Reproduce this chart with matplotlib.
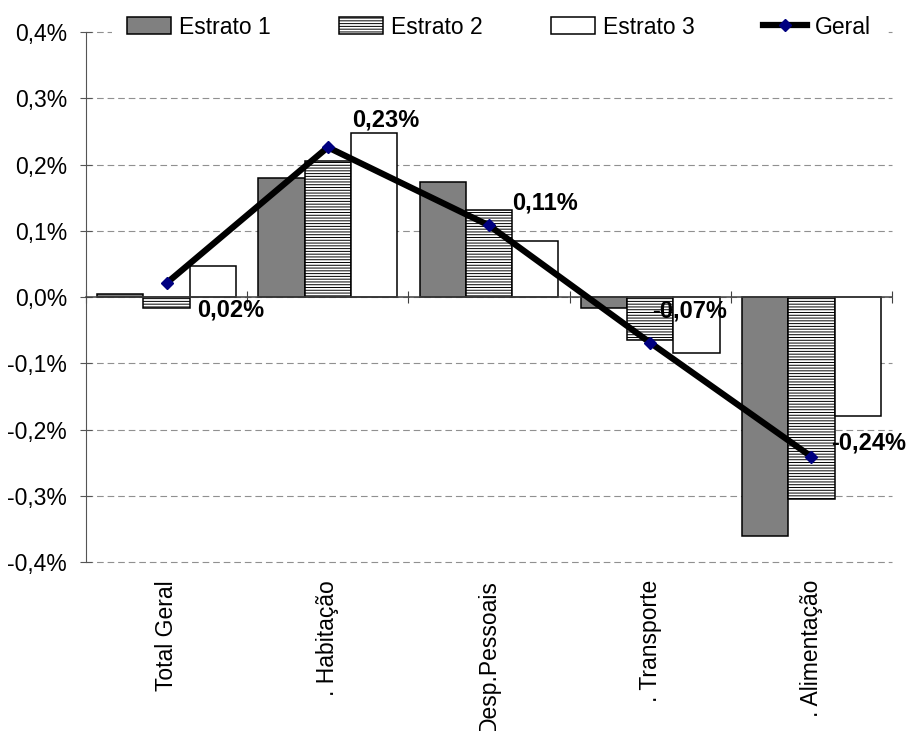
import matplotlib
matplotlib.use('Agg')
import matplotlib.pyplot as plt
import numpy as np

plt.rcParams['font.family'] = ['Liberation Sans', 'DejaVu Sans']
plt.rcParams['hatch.linewidth'] = 0.7

# Data (values in %)
categories = ['Total Geral', '. Habitação', 'Desp.Pessoais', '. Transporte', '. Alimentação']
estrato1 = [0.005, 0.179, 0.174, -0.016, -0.360]
estrato2 = [-0.017, 0.205, 0.131, -0.065, -0.305]
estrato3 = [0.047, 0.247, 0.085, -0.084, -0.180]
geral = [0.021, 0.226, 0.108, -0.069, -0.241]

# label offsets (pixels) for the "Geral" data labels
label_offsets = [(31, -27), (24, 27), (23, 22), (2, 32), (20, 14)]

fig = plt.figure(figsize=(9.12, 7.31), dpi=100)
ax = fig.add_axes([86 / 912, 1 - 562 / 731, (892 - 86) / 912, (562 - 32) / 731])

x = np.arange(len(categories))
w = 0.287

ax.bar(x - w, estrato1, w, color='#808080', edgecolor='black', linewidth=1.1,
       label='Estrato 1', zorder=2)
ax.bar(x, estrato2, w, color='white', edgecolor='black', linewidth=1.1,
       hatch='------', label='Estrato 2', zorder=2)
ax.bar(x + w, estrato3, w, color='white', edgecolor='black', linewidth=1.1,
       label='Estrato 3', zorder=2)
ax.plot(x, geral, color='black', linewidth=4.5, marker='D', markersize=6.5,
        markerfacecolor='#000080', markeredgecolor='#000080', label='Geral', zorder=4)

for i, v in enumerate(geral):
    ax.annotate(f'{v:.2f}%'.replace('.', ','), xy=(x[i], v), xytext=label_offsets[i],
                textcoords='offset pixels', ha='left', va='center',
                fontsize=17, fontweight='bold', zorder=5)

ax.set_xlim(-0.5, len(categories) - 0.5)
ax.set_ylim(-0.4, 0.4)
yt = np.arange(-0.4, 0.41, 0.1)
ax.set_yticks(yt)
ax.set_yticklabels([f'{v:.1f}%'.replace('.', ',').replace('-0,0', '0,0') for v in yt], fontsize=16.5)
ax.tick_params(axis='y', direction='inout', length=9, pad=9, color='#555555')

ax.set_axisbelow(True)
ax.yaxis.grid(True, linestyle=(0, (6, 3.5)), color='#909090', linewidth=0.8)
for gl in ax.get_ygridlines():
    gl.set_clip_on(False)

for s in ['top', 'right']:
    ax.spines[s].set_visible(False)
ax.spines['left'].set_color('#555555')
ax.spines['bottom'].set_position(('data', 0))
ax.spines['bottom'].set_color('#404040')
ax.spines['bottom'].set_linewidth(1.1)
ax.spines['bottom'].set_zorder(3)
ax.set_xticks(np.arange(-0.5, len(categories), 1))
ax.tick_params(axis='x', direction='inout', length=9, labelbottom=False, color='#404040')

sec = ax.secondary_xaxis('bottom')
sec.set_xticks(x, labels=categories, rotation=90, fontsize=16.5)
sec.tick_params(length=0, pad=13)
sec.spines['bottom'].set_visible(False)

handles, labels = ax.get_legend_handles_labels()
order = [labels.index(n) for n in ['Estrato 1', 'Estrato 2', 'Estrato 3', 'Geral']]
fig.legend([handles[k] for k in order], [labels[k] for k in order],
           loc='center', bbox_to_anchor=(499 / 912, 1 - 27 / 731), ncol=4,
           fontsize=16.5, frameon=True, facecolor='white', edgecolor='none', framealpha=1,
           handlelength=1.9, handleheight=0.75, handletextpad=0.35, columnspacing=3.0,
           borderpad=0.65, borderaxespad=0, numpoints=1)

fig.savefig('out.png', dpi=100)
